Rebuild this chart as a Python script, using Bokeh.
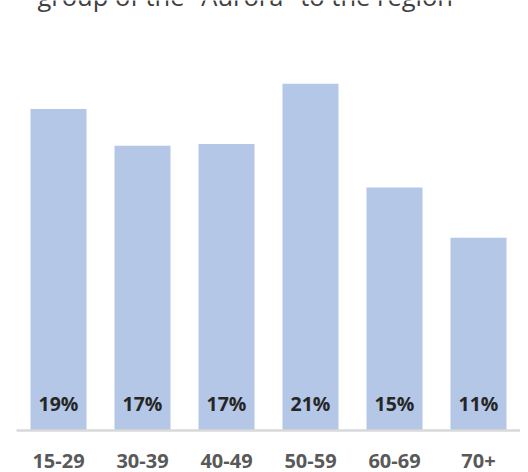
from bokeh.plotting import figure
from bokeh.models import FactorRange, Range1d, ColumnDataSource, Label
from bokeh.core.properties import value
from bokeh.embed import file_html
from bokeh.resources import INLINE

categories = ["15-29", "30-39", "40-49", "50-59", "60-69", "70+"]
shares = [19.2, 17.0, 17.1, 20.7, 14.5, 11.5]
share_labels = ["19%", "17%", "17%", "21%", "15%", "11%"]
title_text = 'group of the "Aurora" to the region'

src = ColumnDataSource(dict(cat=categories, share=shares, label=share_labels))

p = figure(
    x_range=FactorRange(*categories, range_padding=0),
    y_range=Range1d(0, 25.67),
    width=512, height=472,
    output_backend="svg", toolbar_location=None,
    y_axis_location=None,
    min_border_left=8, min_border_right=0, min_border_top=0, min_border_bottom=42,
    outline_line_color=None,
    background_fill_color="white", border_fill_color="white",
    margin=(0, 0, 0, 8),
)
p.xgrid.visible = False
p.ygrid.visible = False

p.vbar(x="cat", top="share", width=0.667, source=src,
       fill_color="#b4c7e7", line_color=None)

p.text(x="cat", y=0, text="label", source=src,
       text_align="center", text_baseline="alphabetic", y_offset=-27,
       text_font=value("Open Sans"), text_font_style="bold",
       text_font_size="19.5px", text_color="#262626")

ax = p.xaxis[0]
ax.axis_line_color = "#d9d9d9"
ax.axis_line_width = 2.7
ax.major_tick_line_color = None
ax.minor_tick_line_color = None
ax.major_label_text_font = "Open Sans"
ax.major_label_text_font_style = "bold"
ax.major_label_text_font_size = "20px"
ax.major_label_text_color = "#595959"
ax.major_label_standoff = 17

p.add_layout(Label(x=21, y=435, x_units="screen", y_units="screen",
                   text=title_text, text_font="Open Sans", text_font_size="25.5px",
                   text_color="#404040", text_baseline="alphabetic", text_align="left"))

open("out.html", "w").write(file_html(p, INLINE))
